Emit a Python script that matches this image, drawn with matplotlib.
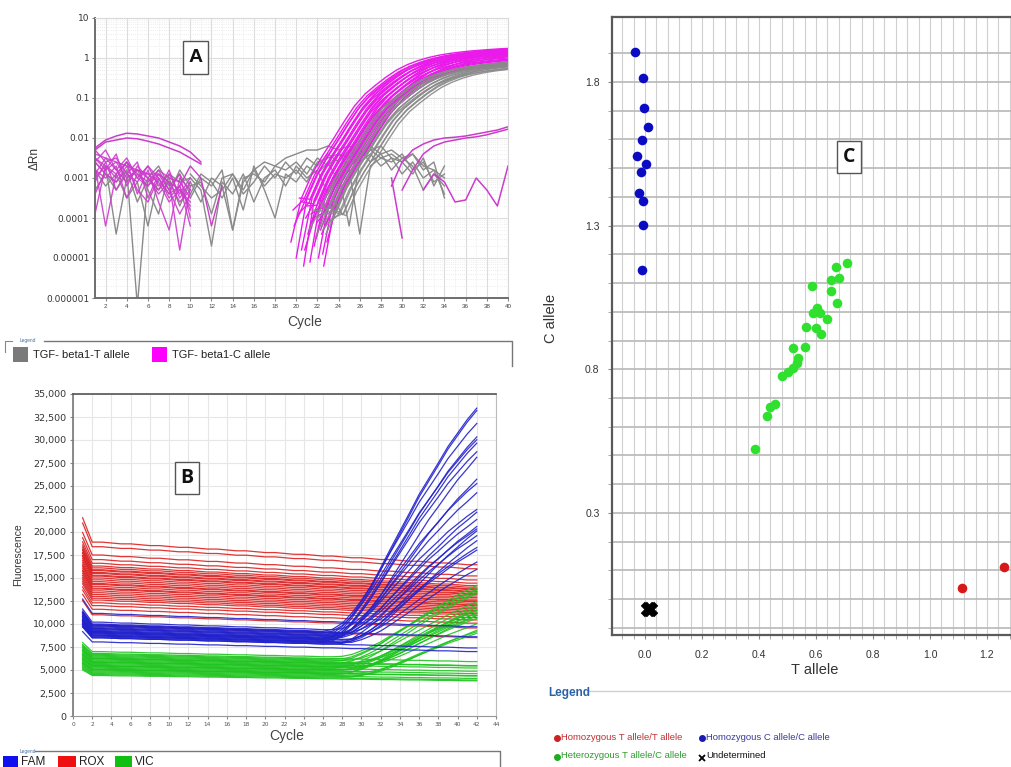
import numpy as np
import matplotlib
matplotlib.use('Agg')
import matplotlib.pyplot as plt
from matplotlib.lines import Line2D
from matplotlib.patches import Rectangle
from matplotlib.ticker import FixedLocator, NullFormatter

plt.rcParams['font.family'] = ['Liberation Sans', 'DejaVu Sans']

# ================= Panel A data (log10 of dRn for noise traces) =================
yticks_A = [1e-6, 1e-5, 1e-4, 1e-3, 1e-2, 1e-1, 1, 10]
ytick_labels_A = ['0.000001', '0.00001', '0.0001', '0.001', '0.01', '0.1', '1', '10']
xticks_A = list(range(2, 41, 2))

# amplification template (cycle 20..41), linear dRn
amp_cycles_A = list(range(20, 42))
amp_template_A = [2e-5, 3e-4, 1.2e-3, 3.5e-3, 9e-3, 2.4e-2, 6e-2, 0.12, 0.20, 0.32, 0.48,
                  0.65, 0.82, 0.98, 1.12, 1.24, 1.34, 1.43, 1.50, 1.57, 1.63, 1.68]
mag_shift = [-0.5, -0.3, 0.0, -0.2, 0.3, 0.5, 0.2, 0.7, 0.9, 0.6, 1.1, 1.3, 1.0, 1.5, 1.7,
             1.4, 1.9, 2.1, 1.8, 2.3, 2.5, 2.2, 2.7, 2.9, 2.6, 3.0, 2.4, 1.6, 0.8, 2.0]
mag_scale = [1.05, 0.95, 1.00, 0.85, 0.98, 1.05, 0.80, 0.95, 1.00, 0.75, 0.92, 0.98, 0.70, 0.90, 0.95,
             0.65, 0.88, 0.92, 0.62, 0.85, 0.88, 0.58, 0.80, 0.82, 0.55, 0.75, 0.50, 0.45, 0.40, 0.60]
mag_start = [-4.6, -3.8, -5.0, -4.2, -3.5, -4.8, -3.9, -5.2, -4.0, -3.6, -4.4, -5.1, -3.7, -4.1, -4.7,
             -3.9, -4.5, -5.0, -3.8, -4.3, -4.9, -3.6, -4.2, -4.6, -5.2, -3.9, -4.4, -4.0, -4.8, -4.1]
gray_shift = [1.2, 1.5, 1.8, 2.0, 2.2, 2.4, 2.6, 2.8, 3.0, 3.2, 3.4, 3.5, 3.7, 2.5]
gray_scale = [0.48, 0.50, 0.45, 0.52, 0.46, 0.50, 0.44, 0.48, 0.42, 0.46, 0.40, 0.44, 0.38, 0.36]
gray_start = [-4.3, -3.8, -4.5, -4.0, -3.6, -4.2, -3.9, -4.4, -3.7, -4.1, -3.5, -4.0, -3.8, -4.3]

early_cycles_A = list(range(1, 11))
m1 = [-2.4, -2.5, -2.6, -2.7, -2.8, -2.9, -2.9, -3.1, -3.3, -3.6]
m2 = [-2.6, -2.3, -2.8, -2.5, -3.0, -2.7, -3.2, -2.9, -3.4, -3.0]
m3 = [-3.9, -2.7, -3.0, -2.6, -2.9, -3.1, -2.8, -3.3, -2.9, -4.0]
m4 = [-2.5, -2.8, -2.4, -3.2, -2.7, -3.0, -3.3, -2.8, -3.5, -3.1]
m5 = [-2.7, -4.2, -2.9, -2.6, -3.4, -2.8, -3.6, -4.3, -3.0, -3.3]
m6 = [-3.1, -2.6, -3.3, -2.9, -2.6, -3.5, -2.9, -3.1, -4.8, -3.2]
m7 = [-2.3, -2.6, -2.5, -2.9, -3.1, -2.7, -3.0, -3.4, -3.2, -3.8]
m8 = [-2.8, -3.0, -2.7, -3.5, -2.9, -3.2, -2.8, -3.0, -3.1, -3.5]
m9 = [-2.6, -2.9, -3.1, -2.7, -3.3, -3.6, -3.0, -3.5, -3.2, -4.2]
m10 = [-3.4, -2.8, -2.6, -3.0, -2.8, -3.0, -3.4, -3.1, -3.6, -3.3]
m11 = [-2.5, -2.7, -2.9, -2.6, -3.0, -3.2, -2.9, -3.3, -3.9, -3.4]
m12 = [-2.9, -2.5, -2.8, -3.1, -2.8, -2.9, -3.1, -3.6, -3.3, -3.7]
g1 = [-2.6, -2.9, -3.3, -2.8, -6.2, -3.0, -2.7, -3.2, -2.9, -3.4]
g2 = [-3.0, -2.7, -4.4, -3.0, -2.8, -3.3, -3.9, -2.9, -3.1, -3.0]
g3 = [-2.8, -3.2, -2.9, -3.5, -3.1, -4.2, -3.0, -3.4, -2.8, -3.2]
g4 = [-3.3, -2.9, -3.1, -2.8, -3.6, -3.0, -3.3, -3.0, -3.7, -3.1]
high_cycles_A = list(range(1, 12))
h1 = [-2.25, -2.05, -1.95, -1.88, -1.9, -1.95, -2.0, -2.1, -2.2, -2.35, -2.6]
h2 = [-2.3, -2.1, -2.05, -2.0, -2.02, -2.08, -2.15, -2.25, -2.35, -2.5, -2.65]
mid_cycles_A = list(range(10, 35))
gm1 = [-3.2, -3.1, -3.9, -3.0, -2.9, -3.3, -2.8, -2.6, -2.7, -2.5, -2.4, -2.3, -2.3,
       -2.2, -2.3, -2.2, -2.4, -2.3, -2.2, -2.5, -2.6, -2.4, -2.7, -2.8, -3.0]
gm2 = [-3.5, -3.0, -3.2, -2.8, -4.3, -3.0, -2.9, -3.1, -2.7, -2.8, -2.6, -2.9, -2.5,
       -2.7, -2.4, -2.5, -2.3, -2.6, -2.4, -2.8, -2.5, -2.7, -3.3, -2.9, -3.2]
gm3 = [-3.0, -3.3, -4.7, -3.1, -3.4, -2.9, -3.6, -3.0, -2.8, -3.2, -2.7, -3.0, -2.8,
       -3.4, -2.9, -4.2, -2.6, -2.4, -2.7, -2.5, -2.9, -2.6, -3.0, -2.8, -3.4]
gm4 = [-3.4, -2.9, -3.1, -3.5, -3.0, -3.8, -2.7, -3.3, -4.0, -2.9, -3.1, -2.7, -2.9,
       -2.6, -3.1, -2.8, -4.4, -2.7, -2.5, -2.6, -2.4, -2.8, -2.6, -3.1, -2.9]
gm5 = [-3.1, -3.6, -3.0, -3.2, -4.3, -3.1, -2.8, -3.2, -2.9, -3.0, -2.8, -3.1, -2.6,
       -2.5, -2.4, -2.7, -2.5, -2.3, -2.5, -2.4, -2.6, -2.9, -2.5, -3.2, -2.7]
gm6 = [-2.9, -3.2, -3.5, -3.3, -2.9, -3.4, -3.1, -2.7, -3.0, -2.6, -2.9, -2.5, -2.7,
       -2.4, -2.6, -2.3, -2.5, -2.2, -2.4, -2.3, -2.5, -2.4, -2.8, -2.6, -3.5]
late_cycles_1 = list(range(29, 41))
ml1 = [-3.2, -2.6, -2.3, -2.15, -2.05, -2.0, -1.98, -1.95, -1.9, -1.85, -1.8, -1.72]
late_cycles_2 = list(range(30, 41))
ml2 = [-3.3, -2.8, -2.4, -2.2, -2.1, -2.05, -2.0, -1.97, -1.92, -1.85, -1.78]
late_cycles_3 = [29, 30]
ml3 = [-3.0, -4.5]
late_cycles_4 = list(range(32, 41))
ml4 = [-3.3, -2.9, -3.1, -3.6, -3.55, -3.0, -3.3, -3.7, -2.7]
magmid_cycles = list(range(9, 14))
mm1 = [-3.2, -2.7, -3.0, -4.2, -3.2]

# ================= Panel B data (fluorescence) =================
cycles_B = list(range(1, 43))
drift_B = [1.14, 1.00, 1.00, 0.995, 0.99, 0.99, 0.985, 0.98, 0.98, 0.975, 0.97, 0.97, 0.965, 0.96,
           0.96, 0.955, 0.95, 0.95, 0.945, 0.94, 0.94, 0.935, 0.93, 0.93, 0.925, 0.92, 0.92, 0.915,
           0.91, 0.91, 0.905, 0.90, 0.90, 0.895, 0.89, 0.89, 0.885, 0.88, 0.88, 0.875, 0.87, 0.87]
rise_B = [0] * 26 + [0.01, 0.04, 0.09, 0.15, 0.22, 0.30, 0.38, 0.46, 0.54, 0.62, 0.69, 0.76,
                     0.83, 0.89, 0.95, 1.0]
fam_base = [9500, 9200, 10000, 9000, 9800, 8800, 9400, 9100, 9600, 8700, 10200, 9300, 8900, 9700,
            9000, 8600, 9500, 8800, 9200, 9900, 8500, 9100, 8700, 11150, 9900, 8500, 8050]
fam_amp = [25200, 25200, 23100, 22500, 21500, 22000, 21000, 20800, 18300, 17700, 16200, 14800,
           14700, 13600, 13800, 13800, 12700, 12800, 12200, 10900, 11200, 9900, 9400, 0, 0, 0, 0]
fam_delay = [0, 0, 0, 0, 0, 0, 1, 0, 1, 0, 1, 1, 0, 1, 2, 1, 1, 2, 1, 2, 1, 2, 2, 0, 0, 0, 0]
rox_base = [18900, 18400, 17500, 17000, 16600, 16300, 16100, 15900, 15800, 15600, 15500, 15300,
            15200, 15000, 14800, 14600, 14400, 14300, 14100, 13900, 13800, 13600, 13400, 13200,
            13000, 12800, 12600, 12300, 12000, 11600, 11000, 9800]
vic_base = [7000, 6800, 6600, 6500, 6400, 6300, 6200, 6100, 6000, 5900, 5800, 5700, 5600, 5500,
            5400, 5300, 5200, 5100, 5000, 4900, 4800, 4700, 4600, 4500, 4400, 6700, 6250, 5850,
            5450, 5050]
vic_amp = [8000, 0, 7500, 9000, 6500, 0, 8500, 7000, 0, 7800, 6000, 8800, 0, 7200, 6800, 0, 8200,
           5500, 0, 7600, 6200, 0, 5800, 0, 0, 8400, 0, 7000, 6600, 0]
vic_delay = [1, 0, 2, 1, 3, 0, 1, 2, 0, 2, 3, 1, 0, 2, 1, 0, 2, 3, 0, 1, 3, 0, 2, 0, 0, 1, 0, 3, 2, 0]

# ================= Panel C data (allelic discrimination) =================
homC_x = [-0.034, -0.007, -0.005, 0.012, -0.011, -0.028, 0.002, -0.015, -0.020, -0.006, -0.007, -0.011]
homC_y = [1.905, 1.815, 1.708, 1.643, 1.597, 1.541, 1.513, 1.486, 1.414, 1.385, 1.301, 1.144]
het_x = [0.710, 0.669, 0.653, 0.681, 0.653, 0.585, 0.675, 0.602, 0.591, 0.614, 0.637, 0.565, 0.599,
         0.616, 0.561, 0.518, 0.536, 0.532, 0.520, 0.503, 0.482, 0.456, 0.439, 0.427, 0.387]
het_y = [1.170, 1.155, 1.109, 1.118, 1.074, 1.089, 1.031, 1.013, 0.996, 0.996, 0.976, 0.947, 0.944,
         0.924, 0.877, 0.874, 0.839, 0.822, 0.804, 0.792, 0.777, 0.680, 0.670, 0.636, 0.523]
homT_x = [1.113, 1.261]
homT_y = [0.038, 0.113]
undet_x = [0.010, 0.018]
undet_y = [-0.035, -0.035]

# ================= figure =================
W, H = 1011, 767
fig = plt.figure(figsize=(W / 100, H / 100), dpi=100)
fig.patch.set_facecolor('white')


def fx(x):
    return x / W


def fy(y):
    return 1 - y / H


def box(l, t, r, b):
    return [fx(l), fy(b), (r - l) / W, (b - t) / H]


def fline(xs, ys, color='#777777', lw=1.0):
    fig.add_artist(Line2D([fx(v) for v in xs], [fy(v) for v in ys], color=color, lw=lw,
                          transform=fig.transFigure))


def fsquare(l, t, r, b, color):
    fig.add_artist(Rectangle((fx(l), fy(b)), (r - l) / W, (b - t) / H, facecolor=color,
                             edgecolor='none', transform=fig.transFigure))


def letter_box(l, t, r, b, s, family):
    fig.add_artist(Rectangle((fx(l), fy(b)), (r - l) / W, (b - t) / H, facecolor='white',
                             edgecolor='#555555', lw=1.0, transform=fig.transFigure))
    fig.text(fx((l + r) / 2), fy((t + b) / 2), s, ha='center', va='center', fontsize=14,
             fontweight='bold', family=family, color='#111111')


# ---------------- Panel A ----------------
axA = fig.add_axes(box(95, 18, 508, 298))
axA.set_yscale('log')
MAG = '#ea1aea'
MAGD = '#cc3ccc'
GRY = '#8a8a8a'
for tr in [g1, g2, g3, g4]:
    axA.plot(early_cycles_A, 10.0 ** np.array(tr), color=GRY, lw=1.0)
for tr in [gm1, gm2, gm3, gm4, gm5, gm6]:
    axA.plot(mid_cycles_A, 10.0 ** np.array(tr), color=GRY, lw=1.0)
for tr in [m1, m2, m3, m4, m5, m6, m7, m8, m9, m10, m11, m12]:
    axA.plot(early_cycles_A, 10.0 ** np.array(tr), color=MAGD, lw=1.0, alpha=0.9)
for tr in [h1, h2]:
    axA.plot(high_cycles_A, 10.0 ** np.array(tr), color=MAGD, lw=1.1)
axA.plot(magmid_cycles, 10.0 ** np.array(mm1), color=MAGD, lw=1.0)
for s, sc, st in zip(mag_shift, mag_scale, mag_start):
    y = np.array(amp_template_A) * sc
    y[0] = 10.0 ** st
    axA.plot(np.array(amp_cycles_A) + s, y, color=MAG, lw=1.0)
for s, sc, st in zip(gray_shift, gray_scale, gray_start):
    y = np.array(amp_template_A) * sc
    y[0] = 10.0 ** st
    axA.plot(np.array(amp_cycles_A) + s, y, color=GRY, lw=1.0, alpha=0.9)
for cx, tr in [(late_cycles_1, ml1), (late_cycles_2, ml2), (late_cycles_3, ml3), (late_cycles_4, ml4)]:
    axA.plot(cx, 10.0 ** np.array(tr), color=MAGD, lw=1.1)

axA.set_xlim(1, 40)
axA.set_ylim(1e-6, 10)
axA.xaxis.set_major_locator(FixedLocator(xticks_A))
axA.xaxis.set_minor_locator(FixedLocator(list(range(1, 41))))
axA.yaxis.set_major_locator(FixedLocator(yticks_A))
axA.set_yticklabels(ytick_labels_A)
axA.yaxis.set_minor_formatter(NullFormatter())
axA.grid(True, which='major', color='#dcdcdc', lw=0.8)
axA.grid(True, which='minor', color='#e6e6e6', lw=0.6, ls=':')
axA.set_axisbelow(True)
axA.tick_params(axis='x', which='major', labelsize=4.5, length=2, color='#888888', pad=2,
                labelcolor='#444444')
axA.tick_params(axis='y', which='major', labelsize=6.5, length=2, color='#888888', pad=2,
                labelcolor='#333333')
axA.tick_params(which='minor', length=0)
for lab in axA.get_yticklabels():
    lab.set_family('DejaVu Sans')
for sp in ['left', 'bottom']:
    axA.spines[sp].set_color('#6e6e6e')
    axA.spines[sp].set_linewidth(1.4)
for sp in ['top', 'right']:
    axA.spines[sp].set_color('#d8d8d8')
fig.text(fx(35), fy(158), 'ΔRn', rotation=90, ha='center', va='center', fontsize=8.5, color='#333333')
fig.text(fx(305), fy(322), 'Cycle', ha='center', va='center', fontsize=10, color='#444444')
letter_box(183, 41, 208, 74, 'A', ['Liberation Sans', 'DejaVu Sans'])

# legend A
fig.text(fx(20), fy(341), 'Legend', fontsize=3.5, color='#4a6fa5', ha='left', va='center')
fline([5, 5, 12], [352, 341, 341], color='#888888', lw=0.8)
fline([44, 512, 512], [341, 341, 366], color='#777777', lw=1.0)
fsquare(13, 347, 28, 362, '#7a7a7a')
fig.text(fx(33), fy(355), 'TGF- beta1-T allele', fontsize=8, color='#222222', ha='left', va='center')
fsquare(152, 347, 167, 362, '#ff00ff')
fig.text(fx(172), fy(355), 'TGF- beta1-C allele', fontsize=8, color='#222222', ha='left', va='center')

# ---------------- Panel B ----------------
axB = fig.add_axes(box(73, 394, 496, 716))
cyc = np.array(cycles_B)
drift = np.array(drift_B)
rise = np.array(rise_B, dtype=float)


def delayed(d):
    if d == 0:
        return rise
    return np.concatenate([np.zeros(d), rise[:-d]])


for b in rox_base:
    axB.plot(cyc, b * drift, color='#dc2020', lw=0.9, alpha=0.9)
for b, a, d in zip(vic_base, vic_amp, vic_delay):
    axB.plot(cyc, b * drift + a * delayed(d), color='#1ec41e', lw=0.9, alpha=0.9)
for b, a, d in zip(fam_base, fam_amp, fam_delay):
    axB.plot(cyc, b * drift + a * delayed(d), color='#2222cc', lw=0.9, alpha=0.9)

axB.set_xlim(0, 44)
axB.set_ylim(0, 35000)
axB.set_xticks(list(range(0, 45, 2)))
axB.set_yticks(list(range(0, 35001, 2500)))
axB.set_yticklabels([f'{v:,}' for v in range(0, 35001, 2500)])
axB.grid(True, color='#e6e6e6', lw=0.8)
axB.set_axisbelow(True)
axB.tick_params(axis='x', labelsize=4.2, length=2, color='#888888', pad=2, labelcolor='#555555')
axB.tick_params(axis='y', labelsize=6.8, length=2, color='#888888', pad=3, labelcolor='#333333')
for lab in axB.get_yticklabels() + axB.get_xticklabels():
    lab.set_family('DejaVu Sans')
axB.spines['top'].set_color('#555555')
axB.spines['top'].set_linewidth(1.2)
axB.spines['left'].set_color('#777777')
axB.spines['left'].set_linewidth(1.2)
axB.spines['bottom'].set_color('#999999')
axB.spines['right'].set_color('#bbbbbb')
fig.text(fx(18), fy(555), 'Fluorescence', rotation=90, ha='center', va='center', fontsize=7.5,
         color='#333333')
fig.text(fx(287), fy(736), 'Cycle', ha='center', va='center', fontsize=10, color='#444444')
letter_box(175, 462, 199, 494, 'B', ['Open Sans', 'DejaVu Sans'])

# legend B
fig.text(fx(20), fy(751), 'Legend', fontsize=3.5, color='#4a6fa5', ha='left', va='center')
fline([35, 500, 500], [751, 751, 767], color='#777777', lw=1.0)
fsquare(3, 756, 18, 767, '#1010ee')
fig.text(fx(21), fy(762), 'FAM', fontsize=8.5, color='#222222', ha='left', va='center')
fsquare(58, 756, 76, 767, '#ee1010')
fig.text(fx(79), fy(762), 'ROX', fontsize=8.5, color='#222222', ha='left', va='center')
fsquare(115, 756, 132, 767, '#10c010')
fig.text(fx(135), fy(762), 'VIC', fontsize=8.5, color='#222222', ha='left', va='center')

# ---------------- Panel C ----------------
axC = fig.add_axes(box(612, 17, 1015.5, 635))
axC.set_xlim(-0.116, 1.30)
axC.set_ylim(-0.125, 2.026)
axC.xaxis.set_major_locator(FixedLocator([0.0, 0.2, 0.4, 0.6, 0.8, 1.0, 1.2]))
axC.xaxis.set_minor_locator(FixedLocator([round(-0.08 + 0.04 * i, 2) for i in range(35)]))
axC.yaxis.set_major_locator(FixedLocator([0.3, 0.8, 1.3, 1.8]))
axC.yaxis.set_minor_locator(FixedLocator([round(-0.1 + 0.1 * i, 1) for i in range(21)]))
axC.set_xticklabels(['0.0', '0.2', '0.4', '0.6', '0.8', '1.0', '1.2'])
axC.set_yticklabels(['0.3', '0.8', '1.3', '1.8'])
axC.grid(True, axis='x', which='both', color='#cfcfcf', lw=0.8)
axC.grid(True, axis='y', which='both', color='#b8b8b8', lw=1.2)
axC.set_axisbelow(True)
axC.tick_params(axis='x', which='major', labelsize=7.5, length=3, color='#888888', pad=8,
                labelcolor='#333333')
axC.tick_params(axis='x', which='minor', length=3, color='#999999')
axC.tick_params(axis='y', which='major', labelsize=7.5, length=3, color='#888888', pad=6,
                labelcolor='#333333')
axC.tick_params(axis='y', which='minor', length=3, color='#999999')
for sp in ['top', 'left', 'bottom']:
    axC.spines[sp].set_color('#5a5a5a')
    axC.spines[sp].set_linewidth(1.6)
axC.spines['right'].set_visible(False)
axC.scatter(homC_x, homC_y, s=48, color='#0b0bc4', zorder=3, linewidths=0)
axC.scatter(het_x, het_y, s=48, color='#2fe02f', zorder=3, linewidths=0)
axC.scatter(homT_x, homT_y, s=48, color='#d81818', zorder=3, linewidths=0)
axC.scatter(undet_x, undet_y, s=110, marker='X', color='black', zorder=3, linewidths=0.5)
fig.text(fx(815), fy(670), 'T allele', ha='center', va='center', fontsize=10.5, color='#333333')
fig.text(fx(551), fy(318), 'C allele', rotation=90, ha='center', va='center', fontsize=10.5,
         color='#333333')
letter_box(837, 141, 861, 173, 'C', ['Open Sans', 'DejaVu Sans'])

# legend C
fig.text(fx(548), fy(693), 'Legend', fontsize=8.5, fontweight='bold', color='#2a62a8',
         ha='left', va='center')
fline([589, 1011], [691, 691], color='#d0d0d0', lw=1.0)
fig.add_artist(Line2D([fx(557)], [fy(738)], marker='o', ms=4, color='#cc2222', transform=fig.transFigure))
fig.text(fx(561), fy(737), 'Homozygous T allele/T allele', fontsize=6.8,
         color='#c03030', ha='left', va='center')
fig.add_artist(Line2D([fx(702)], [fy(738)], marker='o', ms=4, color='#1a1ab0', transform=fig.transFigure))
fig.text(fx(706), fy(737), 'Homozygous C allele/C allele', fontsize=6.8,
         color='#3a3a9a', ha='left', va='center')
fig.add_artist(Line2D([fx(557)], [fy(757)], marker='o', ms=4, color='#22aa22', transform=fig.transFigure))
fig.text(fx(561), fy(756), 'Heterozygous T allele/C allele', fontsize=6.8,
         color='#2f9a2f', ha='left', va='center')
fig.add_artist(Line2D([fx(702)], [fy(758)], marker='x', ms=5, mew=1.3, color='black',
                      transform=fig.transFigure))
fig.text(fx(706), fy(756), 'Undetermined', fontsize=6.8, color='#111111',
         ha='left', va='center')

fig.savefig('out.png', dpi=100, facecolor='white')
